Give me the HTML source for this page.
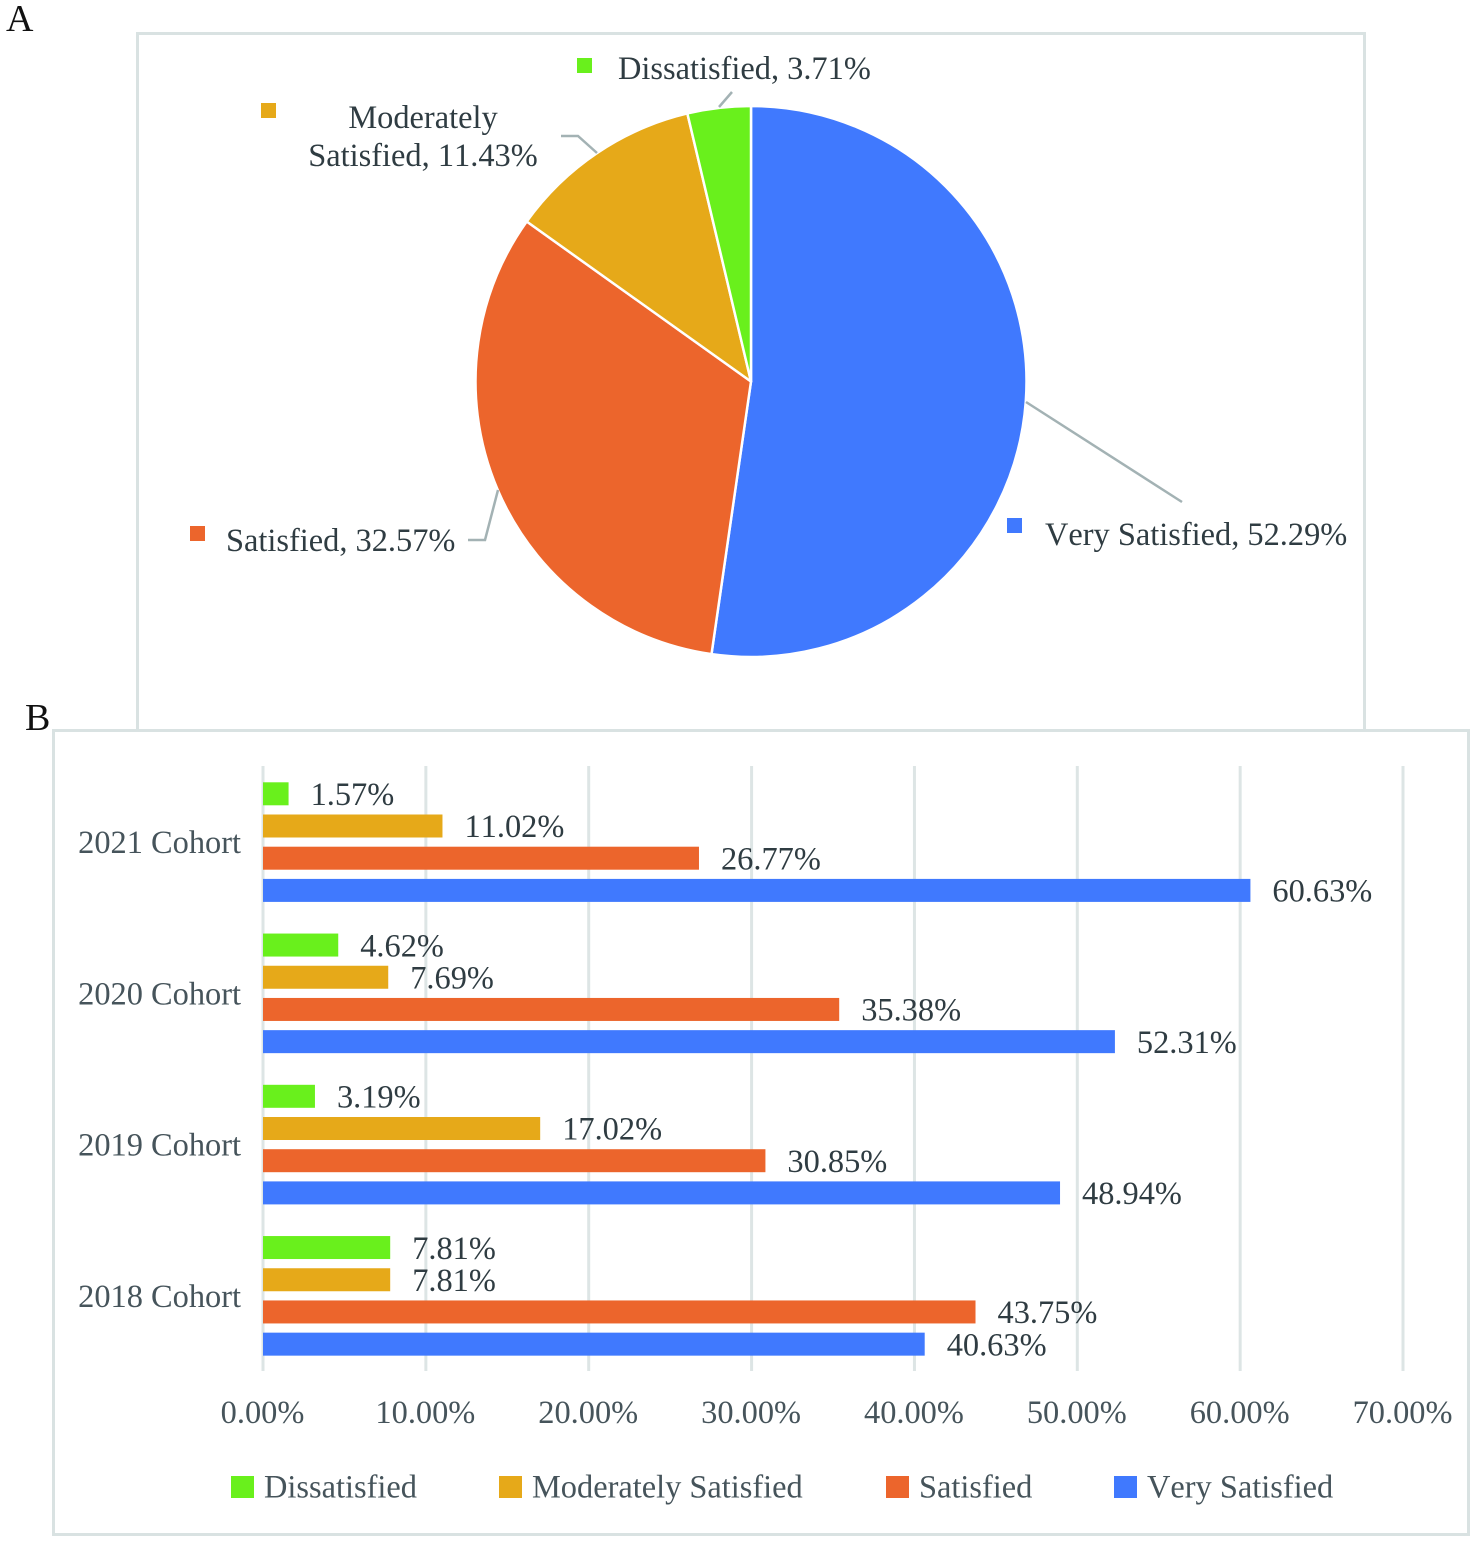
<!DOCTYPE html>
<html>
<head>
<meta charset="utf-8">
<title>Satisfaction charts</title>
<style>
html,body{margin:0;padding:0;background:#fff;}
svg{display:block;}
text{font-family:"Liberation Serif",serif;font-kerning:none;}
</style>
</head>
<body>
<svg id="fig" xmlns="http://www.w3.org/2000/svg" width="1477" height="1543" viewBox="0 0 1477 1543">
  <rect width="1477" height="1543" fill="#ffffff"/>
  <path d="M137.5 730V33.5H1364.5V730" fill="none" stroke="#d9e2e2" stroke-width="3"/>
  <rect x="53.5" y="730.5" width="1415" height="804" fill="#ffffff" stroke="#d9e2e2" stroke-width="3"/>
  <text x="6" y="31" font-size="38" fill="#111">A</text>
  <text x="25" y="730" font-size="38" fill="#111">B</text>
  <g id="pie"></g>
  <g id="bars"></g>
</svg>
<script>
const seriesNames = ['Dissatisfied', 'Moderately Satisfied', 'Satisfied', 'Very Satisfied'];
const seriesColors = ['#69f01c', '#e6a919', '#ec652c', '#4079fe'];
const pieValues = [3.71, 11.43, 32.57, 52.29];
const cohorts = ['2021 Cohort', '2020 Cohort', '2019 Cohort', '2018 Cohort'];
const dissatisfied = [1.57, 4.62, 3.19, 7.81];
const moderatelySatisfied = [11.02, 7.69, 17.02, 7.81];
const satisfied = [26.77, 35.38, 30.85, 43.75];
const verySatisfied = [60.63, 52.31, 48.94, 40.63];
const xTicks = [0, 10, 20, 30, 40, 50, 60, 70];

const NS = 'http://www.w3.org/2000/svg';
function mk(parent, tag, attrs, txt) {
  const el = document.createElementNS(NS, tag);
  for (const k in attrs) el.setAttribute(k, attrs[k]);
  if (txt !== undefined) el.textContent = txt;
  parent.appendChild(el);
  return el;
}
const pct = v => v.toFixed(2) + '%';
const INK = '#2f3c42';
const AXIS = '#46545b';

/* ---------- Pie ---------- */
const pieG = document.getElementById('pie');
const cx = 751, cy = 381.5, R = 275.5;
const pieTotal = pieValues.reduce((a, b) => a + b, 0);
const piePoint = (frac, r) => {
  const a = frac * 2 * Math.PI;
  return [cx + r * Math.sin(a), cy - r * Math.cos(a)];
};
const pieOrder = [3, 2, 1, 0];
const pieSliceNames = ['slice-dissatisfied', 'slice-moderately-satisfied', 'slice-satisfied', 'slice-very-satisfied'];
let acc = 0;
pieOrder.forEach(i => {
  const f0 = acc / pieTotal;
  acc += pieValues[i];
  const f1 = acc / pieTotal;
  const p0 = piePoint(f0, R), p1 = piePoint(f1, R);
  const large = (f1 - f0) > 0.5 ? 1 : 0;
  const slice = mk(pieG, 'path', {
    d: `M${cx} ${cy}L${p0[0]} ${p0[1]}A${R} ${R} 0 ${large} 1 ${p1[0]} ${p1[1]}Z`,
    fill: seriesColors[i], stroke: '#ffffff', 'stroke-width': 2.5, 'stroke-linejoin': 'round'
  });
  
  
});

const leaders = [
  'M719 107L732 92',
  'M597 153L578 136H561',
  'M498 490L485 540H468',
  'M1026 402L1182 502'
];
const leaderNames = ['leader-dissatisfied', 'leader-moderately-satisfied', 'leader-satisfied', 'leader-very-satisfied'];
leaders.forEach((d, i) => {
  const line = mk(pieG, 'path', { d, fill: 'none', stroke: '#a3b2b4', 'stroke-width': 2.5 });
  
  
});

const pieSwatches = [[577, 58], [261, 103], [190, 526], [1007, 518]];
const swatchNames = ['pie-key-dissatisfied', 'pie-key-moderately-satisfied', 'pie-key-satisfied', 'pie-key-very-satisfied'];
pieSwatches.forEach((p, i) => {
  const sw = mk(pieG, 'rect', { x: p[0], y: p[1], width: 15, height: 15, fill: seriesColors[i] });
  
  
});

function pieLabel(name, x, y, anchor, str) {
  const t = mk(pieG, 'text', { x, y, 'text-anchor': anchor, 'font-size': 32.4, fill: INK }, str);
  
  
}
pieLabel('label-dissatisfied', 618, 79, 'start', seriesNames[0] + ', ' + pct(pieValues[0]));
pieLabel('label-moderately-line-1', 423, 128, 'middle', 'Moderately');
pieLabel('label-moderately-line-2', 423, 166, 'middle', 'Satisfied, ' + pct(pieValues[1]));
pieLabel('label-satisfied', 226, 551, 'start', seriesNames[2] + ', ' + pct(pieValues[2]));
pieLabel('label-very-satisfied', 1045, 545, 'start', seriesNames[3] + ', ' + pct(pieValues[3]));

/* ---------- Bars ---------- */
const barsG = document.getElementById('bars');
const x0 = 263, pxPerUnit = 16.286, plotTop = 766, plotBottom = 1371;
const xScale = v => x0 + v * pxPerUnit;
const bandH = (plotBottom - plotTop) / cohorts.length;
const barH = 23, barStep = 32.2, barOffset = 16.3;
const barSeries = [dissatisfied, moderatelySatisfied, satisfied, verySatisfied];

xTicks.forEach(t => {
  const x = xScale(t);
  const grid = mk(barsG, 'line', { x1: x, x2: x, y1: plotTop, y2: plotBottom, stroke: '#dde5e5', 'stroke-width': 3 });
  
  
  const lab = mk(barsG, 'text', { x: x - 0.5, y: 1423, 'text-anchor': 'middle', 'font-size': 32.4, fill: AXIS }, pct(t));
  
  
});

cohorts.forEach((c, ci) => {
  const top = plotTop + ci * bandH;
  const lab = mk(barsG, 'text', { x: 241, y: top + 87, 'text-anchor': 'end', 'font-size': 32.4, fill: AXIS }, c);
  
  
  barSeries.forEach((vals, si) => {
    const y = top + barOffset + si * barStep;
    const v = vals[ci];
    const bar = mk(barsG, 'rect', { x: x0, y, width: xScale(v) - x0, height: barH, fill: seriesColors[si] });
    
    
    const val = mk(barsG, 'text', { x: xScale(v) + 22, y: y + 22.7, 'font-size': 32.4, fill: INK }, pct(v));
    
    
  });
});

const legendSwatchX = [231, 499, 886, 1114];
seriesNames.forEach((n, i) => {
  const sw = mk(barsG, 'rect', { x: legendSwatchX[i], y: 1476, width: 23, height: 22, fill: seriesColors[i] });
  
  
  const t = mk(barsG, 'text', { x: legendSwatchX[i] + 33, y: 1497.5, 'font-size': 32.4, fill: AXIS }, n);
  
  
});
</script>
</body>
</html>
